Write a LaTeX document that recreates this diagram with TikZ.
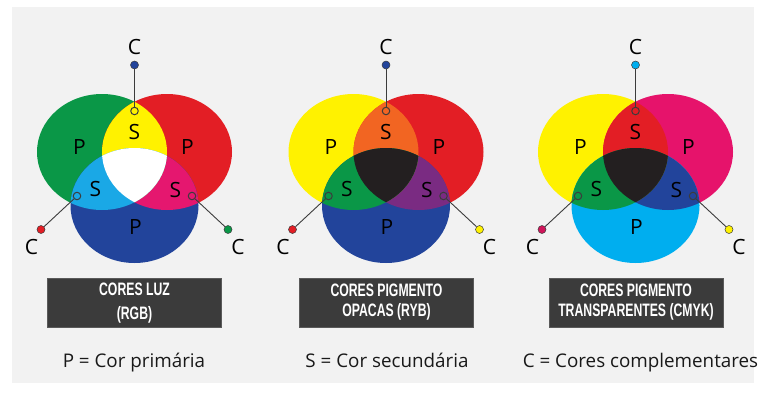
\documentclass[tikz,border=0pt]{standalone}
\usepackage{fontspec}
\setmainfont{Open Sans}
\newfontfamily\boxfont{Liberation Sans}
\usepackage{graphicx}
\definecolor{bggrey}{HTML}{F2F2F2}
\definecolor{cgreen}{HTML}{0A9747}
\definecolor{cred}{HTML}{E31E25}
\definecolor{cblue}{HTML}{22449B}
\definecolor{cyellow}{HTML}{FFF200}
\definecolor{ccyanA}{HTML}{1AA8E6}
\definecolor{ccyan}{HTML}{00AEEF}
\definecolor{cmagA}{HTML}{E5176F}
\definecolor{cmag}{HTML}{E6136B}
\definecolor{ccrim}{HTML}{D0155A}
\definecolor{corange}{HTML}{F26522}
\definecolor{cpurple}{HTML}{7A2B82}
\definecolor{cblack}{HTML}{231F20}
\definecolor{cwhite}{HTML}{FFFFFF}
\definecolor{boxgrey}{HTML}{3B3B3B}
\definecolor{boxline}{HTML}{5A5A5A}
\definecolor{lineg}{HTML}{3C3C3C}
\tikzset{
  lbl/.style={inner sep=0pt, text=black, font=\fontsize{21}{25}\selectfont},
  dotst/.style={circle, inner sep=0pt, minimum size=8pt, draw=lineg, line width=0.5pt},
  ring/.style={circle, inner sep=0pt, minimum size=7.5pt, draw=lineg, line width=1pt},
  conn/.style={draw=lineg, line width=0.9pt},
  boxst/.style={rectangle, fill=boxgrey, draw=boxline, line width=1pt, minimum width=174pt, minimum height=49pt, inner sep=0pt, text=white, font=\boxfont\bfseries\fontsize{18}{24}\selectfont},
  legend/.style={anchor=base, inner sep=0pt, text=black!90, font=\fontsize{18.8}{24}\selectfont}
}
\begin{document}
\begin{tikzpicture}[x=1pt,y=-1pt]
\useasboundingbox (0,0) rectangle (758,394);
\fill[white] (0,0) rectangle (758,394);
\fill[bggrey] (12,7) rectangle (754,383);
\foreach \X/\cL/\cR/\cB/\cT/\cSL/\cSR/\cM/\dT/\dL/\dR/\n in {
  134.5/cgreen/cred/cblue/cyellow/ccyanA/cmagA/cwhite/cblue/cred/cgreen/1,
  386/cyellow/cred/cblue/corange/cgreen/cpurple/cblack/cblue/cred/cyellow/2,
  635.5/cyellow/cmag/ccyan/cred/cgreen/cblue/cblack/ccyan/ccrim/cyellow/3}{
  \fill[\cL] (\X-32.5,152) ellipse [x radius=65pt, y radius=58pt];
  \fill[\cR] (\X+32.5,152) ellipse [x radius=65pt, y radius=58pt];
  \fill[\cB] (\X,205.5) ellipse [x radius=64pt, y radius=57.5pt];
  \begin{scope}
    \clip (\X+32.5,152) ellipse [x radius=65pt, y radius=58pt];
    \fill[\cSR] (\X,205.5) ellipse [x radius=64pt, y radius=57.5pt];
  \end{scope}
  \begin{scope}
    \clip (\X-32.5,152) ellipse [x radius=65pt, y radius=58pt];
    \fill[\cT] (\X+32.5,152) ellipse [x radius=65pt, y radius=58pt];
    \fill[\cSL] (\X,205.5) ellipse [x radius=64pt, y radius=57.5pt];
    \clip (\X+32.5,152) ellipse [x radius=65pt, y radius=58pt];
    \fill[\cM] (\X,205.5) ellipse [x radius=64pt, y radius=57.5pt];
  \end{scope}
  % labels
  \node[lbl] (PL\n) at (\X-55,147) {P};
  \node[lbl] (PR\n) at (\X+53,147) {P};
  \node[lbl] (PB\n) at (\X+1,227) {P};
  \node[lbl] (ST\n) at (\X,132) {S};
  \node[lbl] (SL\n) at (\X-39,189) {S};
  \node[lbl] (SR\n) at (\X+41,190) {S};
  % complementary markers
  \node[ring] (mT\n) at (\X,111) {};
  \node[dotst, fill=\dT] (dT\n) at (\X,65) {};
  \node[lbl] (cT\n) at (\X,47) {C};
  \draw[conn] (mT\n) -- (dT\n);
  \node[ring] (mL\n) at (\X-57.5,196) {};
  \node[dotst, fill=\dL] (dL\n) at (\X-93.5,229.5) {};
  \node[lbl] (cL\n) at (\X-103,246.5) {C};
  \draw[conn] (mL\n) -- (dL\n);
  \node[ring] (mR\n) at (\X+57.5,196) {};
  \node[dotst, fill=\dR] (dR\n) at (\X+93.5,229.5) {};
  \node[lbl] (cR\n) at (\X+103.5,246.5) {C};
  \draw[conn] (mR\n) -- (dR\n);
}
% title boxes
\node[boxst] (box1) at (134.5,302.5) {\scalebox{0.68}[1]{\begin{tabular}{@{}c@{}}CORES LUZ\\(RGB)\end{tabular}}};
\node[boxst, font=\boxfont\bfseries\fontsize{18}{20.5}\selectfont] (box2) at (386.5,302.5) {\scalebox{0.68}[1]{\begin{tabular}{@{}c@{}}CORES PIGMENTO\\OPACAS (RYB)\end{tabular}}};
\node[boxst, font=\boxfont\bfseries\fontsize{18}{20.5}\selectfont] (box3) at (636,302.5) {\scalebox{0.68}[1]{\begin{tabular}{@{}c@{}}CORES PIGMENTO\\TRANSPARENTES (CMYK)\end{tabular}}};
% legend
\node[legend] (leg1) at (134,367) {P = Cor primária};
\node[legend] (leg2) at (387,367) {S = Cor secundária};
\node[legend] (leg3) at (640.5,367) {C = Cores complementares};
\end{tikzpicture}
\end{document}
